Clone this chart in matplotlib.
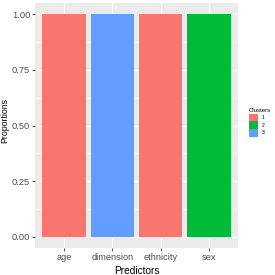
import numpy as np
import matplotlib.pyplot as plt
from matplotlib.patches import Patch

predictors = ["age", "dimension", "ethnicity", "sex"]
proportions = [1.0, 1.0, 1.0, 1.0]
clusters = ["1", "3", "1", "2"]

cluster_levels = ["1", "2", "3"]
cluster_colors = {"1": "#F8766D", "2": "#00BA38", "3": "#619CFF"}
y_ticks = [0.0, 0.25, 0.5, 0.75, 1.0]
y_labels = ["0.00", "0.25", "0.50", "0.75", "1.00"]

plt.rcParams["font.family"] = ["Liberation Sans", "DejaVu Sans"]

W, H = 275, 275
fig = plt.figure(figsize=(W / 100, H / 100), dpi=100)
ax = fig.add_axes([35 / W, 1 - 248 / H, (238 - 35) / W, (248 - 3) / H])
ax.set_facecolor("#EBEBEB")

x = np.arange(1, len(predictors) + 1)
ax.bar(x, proportions, width=0.9, color=[cluster_colors[c] for c in clusters], zorder=3)

ax.set_xlim(0.4, 4.6)
ax.set_ylim(-0.05, 1.05)
ax.set_yticks(y_ticks)
ax.set_yticklabels(y_labels)
ax.set_yticks([0.125, 0.375, 0.625, 0.875], minor=True)
ax.set_xticks(x)
ax.set_xticklabels(predictors)

ax.grid(which="major", color="white", linewidth=0.8, zorder=0)
ax.grid(which="minor", axis="y", color="white", linewidth=0.4, zorder=0)
for s in ax.spines.values():
    s.set_visible(False)
ax.tick_params(axis="both", which="major", length=2, width=0.6, color="#333333",
               labelsize=6.7, labelcolor="#4D4D4D", pad=1.5)
ax.tick_params(axis="both", which="minor", length=0)

ax.set_xlabel("Predictors", fontsize=7.3)
ax.xaxis.set_label_coords(0.5, -0.072)
ax.set_ylabel("Proportions", fontsize=6.3)
ax.yaxis.set_label_coords(-0.125, 0.52)

handles = [Patch(facecolor=cluster_colors[c], edgecolor="none", label=c) for c in cluster_levels]
leg = fig.legend(handles=handles, title="Clusters", loc="upper left",
                 bbox_to_anchor=(246 / W, 1 - 106 / H), frameon=False,
                 fontsize=3.6, title_fontsize=4.3, handlelength=1.9, handleheight=2.0,
                 handletextpad=0.7, labelspacing=0.0, borderpad=0)
leg._legend_box.align = "left"

fig.savefig("out.png", dpi=100)
